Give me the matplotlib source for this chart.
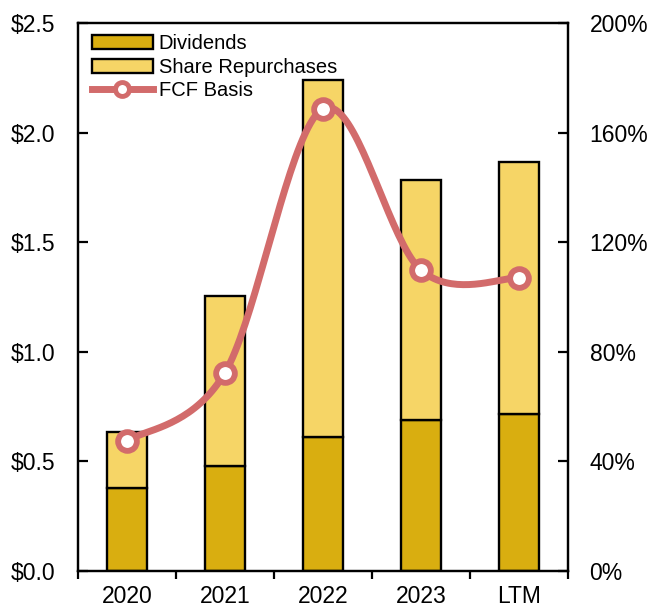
import numpy as np
import matplotlib
matplotlib.use('Agg')
import matplotlib.pyplot as plt
from matplotlib.ticker import FuncFormatter
from matplotlib.lines import Line2D
from matplotlib.patches import Patch

plt.rcParams['font.family'] = ['Liberation Sans', 'DejaVu Sans']

categories = ['2020', '2021', '2022', '2023', 'LTM']
dividends = [0.38, 0.477, 0.613, 0.69, 0.717]
repurchases = [0.252, 0.778, 1.625, 1.092, 1.151]
fcf_basis = [47.5, 72.4, 168.7, 109.8, 107.0]

div_color = '#D9AE10'
rep_color = '#F6D566'
line_color = '#D26B6B'

fig = plt.figure(figsize=(6.52, 6.07), dpi=100)
ax = fig.add_axes([78/652, 1 - 571/607, 490/652, 548/607])
x = np.arange(len(categories))

ax.bar(x, dividends, width=0.41, color=div_color, edgecolor='black', linewidth=1.7, zorder=2)
ax.bar(x, repurchases, width=0.41, bottom=dividends, color=rep_color, edgecolor='black', linewidth=1.7, zorder=2)

ax.set_xlim(-0.5, len(categories) - 0.5)
ax.set_ylim(0, 2.5)
ax.set_yticks(np.arange(0, 2.51, 0.5))
ax.yaxis.set_major_formatter(FuncFormatter(lambda v, p: '${:.1f}'.format(v)))
ax.set_xticks(x)
ax.set_xticklabels(categories)
ax.set_xticks(np.arange(-0.5, len(categories)), minor=True)
ax.tick_params(axis='x', which='major', length=0, labelsize=16.5, pad=10)
ax.tick_params(axis='x', which='minor', length=6, width=1.6, direction='out')
ax.tick_params(axis='y', direction='in', length=7, width=1.6, labelsize=16.5, pad=16.5)
for s in ax.spines.values():
    s.set_linewidth(1.6)

ax2 = ax.twinx()
ax2.set_ylim(0, 200)
ax2.set_yticks(np.arange(0, 201, 40))
ax2.yaxis.set_major_formatter(FuncFormatter(lambda v, p: '{:.0f}%'.format(v)))
ax2.tick_params(axis='y', direction='in', length=7, width=1.6, labelsize=16.5, pad=15.5)
for s in ax2.spines.values():
    s.set_linewidth(1.6)

# smoothed line (excel-style bezier)
px = x.astype(float)
py = np.array(fcf_basis, dtype=float)
n = len(px)
cx, cy = [], []
for i in range(n - 1):
    p0 = np.array([px[max(i - 1, 0)], py[max(i - 1, 0)]])
    p1 = np.array([px[i], py[i]])
    p2 = np.array([px[i + 1], py[i + 1]])
    p3 = np.array([px[min(i + 2, n - 1)], py[min(i + 2, n - 1)]])
    c1 = p1 + (p2 - p0) / 6
    c2 = p2 - (p3 - p1) / 6
    t = np.linspace(0, 1, 40)[:, None]
    pts = (1 - t) ** 3 * p1 + 3 * (1 - t) ** 2 * t * c1 + 3 * (1 - t) * t ** 2 * c2 + t ** 3 * p2
    cx.extend(pts[:, 0])
    cy.extend(pts[:, 1])
ax2.plot(cx, cy, color=line_color, linewidth=5, solid_capstyle='round', zorder=3)
ax2.plot(px, py, linestyle='none', marker='o', markersize=13.5, markerfacecolor='white',
         markeredgecolor=line_color, markeredgewidth=4.2, zorder=4)

handles = [Patch(facecolor=div_color, edgecolor='black', linewidth=1.7),
           Patch(facecolor=rep_color, edgecolor='black', linewidth=1.7),
           Line2D([], [], color=line_color, linewidth=5, marker='o', markersize=10,
                  markerfacecolor='white', markeredgecolor=line_color, markeredgewidth=3.5)]
ax2.legend(handles, ['Dividends', 'Share Repurchases', 'FCF Basis'], loc='upper left',
           bbox_to_anchor=(0.0, 1.005), frameon=False, fontsize=14.5, handlelength=3.0,
           handleheight=0.7, handletextpad=0.3, labelspacing=0.22, borderaxespad=0.3)

fig.savefig('out.png', dpi=100)
